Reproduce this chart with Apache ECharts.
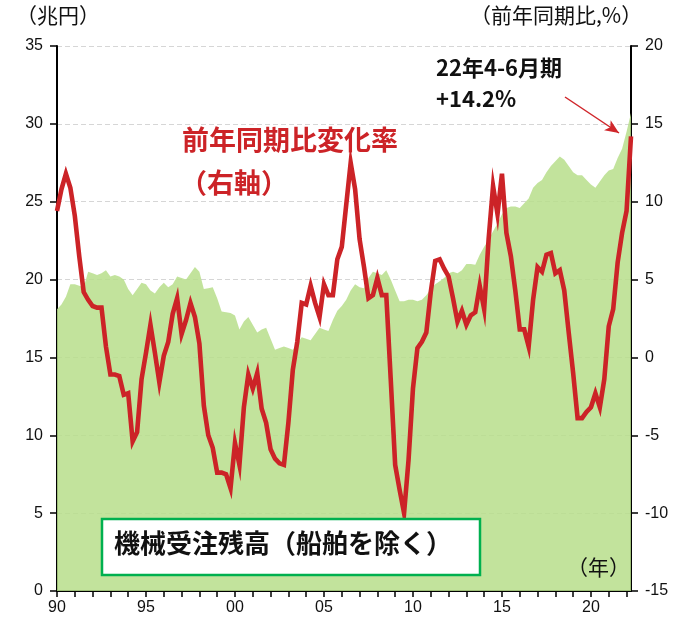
<!DOCTYPE html>
<html>
<head>
<meta charset="utf-8">
<script src="https://cdn.jsdelivr.net/npm/echarts@6/dist/echarts.min.js"></script>
<style>
html, body { margin: 0; padding: 0; background: #fff; }
#main { width: 692px; height: 626px; }
</style>
</head>
<body>
<div id="main"></div>
<script>
// 機械受注残高（船舶を除く）, 兆円, quarterly 1990Q1 - 2022Q2
var backlog = [
  18.1, 18.4, 18.9, 19.7,   // 1990
  19.7, 19.6, 19.5, 20.5,   // 1991
  20.4, 20.3, 20.4, 20.6,   // 1992
  20.2, 20.3, 20.2, 20.0,   // 1993
  19.4, 19.0, 19.4, 19.8,   // 1994
  19.7, 19.3, 19.1, 19.5,   // 1995
  19.8, 19.5, 19.7, 20.2,   // 1996
  20.1, 20.0, 20.4, 20.8,   // 1997
  20.5, 19.4, 19.45, 19.5,  // 1998
  18.8, 17.95, 17.9, 17.85, // 1999
  17.7, 16.8, 17.3, 17.6,   // 2000
  17.1, 16.6, 16.8, 16.9,   // 2001
  16.2, 15.5, 15.6, 15.7,   // 2002
  15.6, 15.5, 15.9, 16.3,   // 2003
  16.2, 16.1, 16.5, 16.9,   // 2004
  16.8, 16.7, 17.4, 18.0,   // 2005
  18.3, 18.7, 19.3, 19.7,   // 2006
  19.5, 19.45, 20.1, 20.5,  // 2007
  20.4, 20.3, 20.6, 20.0,   // 2008
  19.3, 18.6, 18.6, 18.7,   // 2009
  18.7, 18.6, 18.7, 19.0,   // 2010
  19.4, 19.7, 19.9, 20.1,   // 2011
  20.4, 20.5, 20.4, 20.6,   // 2012
  21.0, 21.0, 20.95, 21.6,  // 2013
  22.1, 22.56, 23.1, 23.6,  // 2014
  24.2, 24.6, 24.7, 24.7,   // 2015
  24.6, 24.9, 25.2, 25.9,   // 2016
  26.2, 26.4, 26.9, 27.3,   // 2017
  27.6, 27.9, 27.7, 27.3,   // 2018
  26.9, 26.7, 26.7, 26.4,   // 2019
  26.1, 25.9, 26.3, 26.7,   // 2020
  27.0, 27.1, 27.8, 28.4,   // 2021
  29.5, 30.7                // 2022
];

// 前年同期比変化率, %
var yoyChange = [
  9.4, 10.8, 11.8, 10.9,
  9.1, 6.5, 4.2, 3.7,
  3.3, 3.2, 3.2, 0.7,
  -1.1, -1.1, -1.2, -2.4,
  -2.3, -5.4, -4.8, -1.4,
  0.3, 2.1, 0.3, -1.6,
  0.1, 1.0, 2.8, 3.8,
  1.5, 2.4, 3.5, 2.6,
  0.9, -3.1, -5.0, -5.8,
  -7.4, -7.4, -7.5, -8.4,
  -5.5, -6.9, -3.2, -1.1,
  -2.0, -1.0, -3.3, -4.2,
  -5.9, -6.5, -6.8, -6.9,
  -4.2, -0.8, 1.0, 3.5,
  3.4, 4.6, 3.5, 2.6,
  4.7, 4.0, 4.0, 6.3,
  7.1, 9.8, 12.5, 10.8,
  7.6, 5.8, 3.8, 4.0,
  5.1, 4.0, 4.0, -1.4,
  -6.9, -8.5, -10.0, -6.6,
  -2.0, 0.6, 1.0, 1.6,
  4.2, 6.2, 6.3, 5.7,
  5.2, 3.8, 2.3, 3.0,
  2.1, 2.7, 2.9, 4.6,
  3.1, 7.6, 11.0, 9.2,
  11.8, 8.0, 6.5, 4.3,
  1.8, 1.8, 0.7, 3.7,
  5.8, 5.5, 6.6, 6.7,
  5.4, 5.6, 4.3, 1.6,
  -1.0, -3.9, -3.9, -3.5,
  -3.2, -2.3, -3.2, -1.4,
  2.0, 3.1, 6.1, 8.0,
  9.4, 14.2
];

var startYear = 1990;
var quarters = [];
for (var i = 0; i < backlog.length; i++) {
  quarters.push((startYear + Math.floor(i / 4)) + 'Q' + (i % 4 + 1));
}

var labelFont = 'Liberation Sans, Arial, sans-serif';
var jpFont = 'Noto Sans CJK JP, sans-serif';

var chart = echarts.init(document.getElementById('main'));

option = {
  animation: false,
  grid: { left: 57, right: 61, top: 46, bottom: 35 },
  xAxis: {
    type: 'category',
    data: quarters,
    boundaryGap: false,
    axisLine: { lineStyle: { color: '#000', width: 2 } },
    axisTick: {
      interval: function (idx) { return idx % 4 === 0; },
      length: 6,
      lineStyle: { color: '#000', width: 1.5 }
    },
    axisLabel: {
      interval: function (idx) { return idx % 20 === 0; },
      formatter: function (v) { return v.substr(2, 2); },
      color: '#111',
      fontSize: 16,
      fontFamily: labelFont,
      margin: 9
    },
    splitLine: { show: false }
  },
  yAxis: [
    {
      type: 'value',
      min: 0,
      max: 35,
      interval: 5,
      position: 'left',
      axisLine: { show: true, lineStyle: { color: '#000', width: 2 } },
      axisTick: { show: true, length: 7, lineStyle: { color: '#000', width: 1.5 } },
      axisLabel: { color: '#111', fontSize: 16, fontFamily: labelFont, margin: 14 },
      splitLine: { show: true, lineStyle: { color: '#d6d6d6', type: [5, 3], width: 1 } }
    },
    {
      type: 'value',
      min: -15,
      max: 20,
      interval: 5,
      position: 'right',
      axisLine: { show: true, lineStyle: { color: '#000', width: 2 } },
      axisTick: { show: true, length: 7, lineStyle: { color: '#000', width: 1.5 } },
      axisLabel: { color: '#111', fontSize: 16, fontFamily: labelFont, margin: 14 },
      splitLine: { show: false }
    }
  ],
  series: [
    {
      name: '機械受注残高',
      type: 'line',
      data: backlog,
      yAxisIndex: 0,
      symbol: 'none',
      lineStyle: { width: 0 },
      areaStyle: { color: 'rgb(183,222,139)', opacity: 0.85 },
      z: 1
    },
    {
      name: '前年同期比変化率',
      type: 'line',
      data: yoyChange,
      yAxisIndex: 1,
      symbol: 'none',
      lineStyle: { color: '#cc2327', width: 4.6, join: 'miter' },
      z: 3,
      markLine: {
        silent: true,
        symbolSize: [9, 14],
        label: { show: false },
        lineStyle: { color: '#d0262b', width: 1.5, type: 'solid' },
        data: [[
          { x: 565, y: 97, symbol: 'none' },
          { x: 619, y: 133, symbol: 'arrow' }
        ]]
      }
    }
  ],
  graphic: [
    {
      type: 'text', left: 16, top: 5, z: 100,
      style: { text: '（兆円）', fontSize: 21, fontFamily: jpFont, fill: '#111' }
    },
    {
      type: 'text', left: 470, top: 5, z: 100,
      style: { text: '（前年同期比,%）', fontSize: 21, fontFamily: jpFont, fill: '#111' }
    },
    {
      type: 'text', left: 567, top: 557, z: 100,
      style: { text: '（年）', fontSize: 21, fontFamily: jpFont, fill: '#111' }
    },
    {
      type: 'text', left: 182, top: 126, z: 100,
      style: { text: '前年同期比変化率', fontSize: 27, fontWeight: 'bold', fontFamily: jpFont, fill: '#cc2327' }
    },
    {
      type: 'text', left: 180, top: 169, z: 100,
      style: { text: '（右軸）', fontSize: 27, fontWeight: 'bold', fontFamily: jpFont, fill: '#cc2327' }
    },
    {
      type: 'text', left: 436, top: 57, z: 100,
      style: { text: '22年4-6月期', fontSize: 22, fontWeight: 'bold', fontFamily: jpFont, fill: '#111' }
    },
    {
      type: 'text', left: 436, top: 88, z: 100,
      style: { text: '+14.2%', fontSize: 22, fontWeight: 'bold', fontFamily: jpFont, fill: '#111' }
    },
    {
      type: 'rect', z: 100,
      shape: { x: 102, y: 519, width: 378, height: 56 },
      style: { fill: '#fff', stroke: '#00b04f', lineWidth: 2.5 }
    },
    {
      type: 'text', left: 114, top: 530, z: 101,
      style: { text: '機械受注残高（船舶を除く）', fontSize: 26, fontWeight: 'bold', fontFamily: jpFont, fill: '#111' }
    }
  ]
};

chart.setOption(option);
</script>
</body>
</html>
